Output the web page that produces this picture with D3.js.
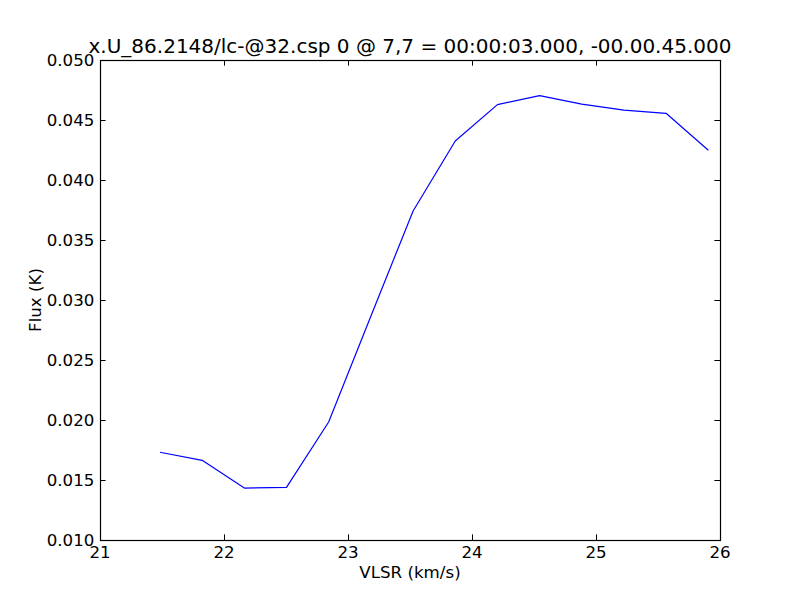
<!DOCTYPE html>
<html><head><meta charset="utf-8">
<script src="https://cdn.jsdelivr.net/npm/d3@7"></script>
<style>body{margin:0;background:#fff}svg{display:block}text{font-family:"DejaVu Sans";fill:#000}</style>
</head><body><svg id="c" width="800" height="600"></svg>
<script>
const titleText = "x.U_86.2148/lc-@32.csp 0 @ 7,7 = 00:00:03.000, -00.00.45.000";
const xLabel = "VLSR (km/s)";
const yLabel = "Flux (K)";
const velocity = [21.484, 21.824, 22.164, 22.504, 22.844, 23.185, 23.525, 23.865, 24.205, 24.545, 24.885, 25.225, 25.565, 25.906];
const flux = [0.01731, 0.01664, 0.01433, 0.01439, 0.01983, 0.02867, 0.03742, 0.04325, 0.04628, 0.04703, 0.04633, 0.04583, 0.04556, 0.04248];
const xTicks = [21, 22, 23, 24, 25, 26];
const yTicks = [0.010, 0.015, 0.020, 0.025, 0.030, 0.035, 0.040, 0.045, 0.050];

const L = 100, R = 720, T = 60, B = 540;
const svg = d3.select("#c");
const x = d3.scaleLinear().domain([21, 26]).range([L, R]);
const y = d3.scaleLinear().domain([0.010, 0.050]).range([B, T]);
const tl = 5.6, fs = 16.67;

const line = d3.line().x((d, i) => x(velocity[i])).y(d => y(d));
svg.append("path").datum(flux).attr("d", line).attr("fill", "none")
  .attr("stroke", "#0000ff").attr("stroke-width", 1.2).attr("stroke-linejoin", "round");

const g = svg.append("g").attr("stroke", "#000").attr("stroke-width", 1);
xTicks.forEach(v => {
  const px = Math.round(x(v)) + 0.5;
  g.append("line").attr("x1", px).attr("x2", px).attr("y1", B).attr("y2", B - tl);
  g.append("line").attr("x1", px).attr("x2", px).attr("y1", T).attr("y2", T + tl);
});
yTicks.forEach(v => {
  const py = Math.round(y(v)) + 0.5;
  g.append("line").attr("x1", L).attr("x2", L + tl).attr("y1", py).attr("y2", py);
  g.append("line").attr("x1", R).attr("x2", R - tl).attr("y1", py).attr("y2", py);
});
svg.append("rect").attr("x", L + 0.5).attr("y", T + 0.5).attr("width", R - L).attr("height", B - T)
  .attr("fill", "none").attr("stroke", "#000").attr("stroke-width", 1.2);

svg.selectAll(".xt").data(xTicks).enter().append("text")
  .attr("x", d => x(d)).attr("y", B + 5.6 + 12.2).attr("text-anchor", "middle")
  .attr("font-size", fs).text(d => d3.format("d")(d));
svg.selectAll(".yt").data(yTicks).enter().append("text")
  .attr("x", L - 5.6).attr("y", d => y(d) + 6).attr("text-anchor", "end")
  .attr("font-size", fs).text(d => d3.format(".3f")(d));

svg.append("text").attr("x", (L + R) / 2).attr("y", 578).attr("text-anchor", "middle")
  .attr("font-size", fs).text(xLabel);
svg.append("text").attr("transform", `translate(41,${(T + B) / 2}) rotate(-90)`)
  .attr("text-anchor", "middle").attr("font-size", fs).text(yLabel);
svg.append("text").attr("x", (L + R) / 2).attr("y", 53).attr("text-anchor", "middle")
  .attr("font-size", 20).text(titleText);
</script></body></html>
